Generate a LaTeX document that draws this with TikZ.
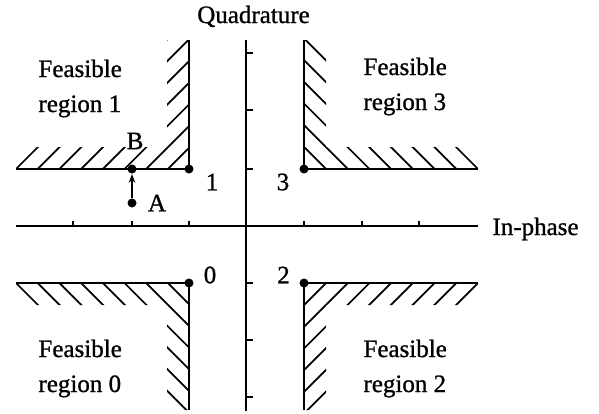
\documentclass[tikz,border=0pt]{standalone}
\usepackage{fontspec}
\setmainfont{Liberation Serif}[FakeBold=1]
\usetikzlibrary{arrows.meta}
\begin{document}
\begin{tikzpicture}[x=0.4pt,y=-0.4pt,
 axis/.style={line width=1pt},
 bound/.style={line width=1pt},
 hatch/.style={line width=0.7pt},
 tick/.style={line width=0.7pt},
 dot/.style={circle,fill,inner sep=0pt,minimum size=3.6pt},
 lbl/.style={font=\fontsize{10}{14}\selectfont, inner sep=0pt},
 region/.style={lbl, align=left, anchor=base west}]
\useasboundingbox (0,0) rectangle (599,413);
% axes
\coordinate (xl) at (16,226); \coordinate (xr) at (478,226);
\coordinate (yt) at (246,40); \coordinate (yb) at (246,411);
\draw[axis] (xl) -- (xr);
\draw[axis] (yt) -- (yb);
\foreach \x in {73,132,189,304,362,419} \draw[tick] (\x,226) -- (\x,221);
\foreach \y in {53,110,169,283,340,397} \draw[tick] (246,\y) -- (253,\y);
\node[lbl, anchor=base] (quad) at (253.5,23) {Quadrature};
\node[lbl, anchor=base west] (inph) at (492,235) {In-phase};
% points
\node[dot] (s1) at (189,169) {};
\node[dot] (s3) at (304,169) {};
\node[dot] (s0) at (189,283) {};
\node[dot] (s2) at (304,283) {};
\node[dot] (A) at (132,203) {};
\node[dot] (B) at (132,169) {};
% boundaries
\coordinate (r1a) at (16,169); \coordinate (r1b) at (189,40);
\coordinate (r3a) at (478,169); \coordinate (r3b) at (304,40);
\coordinate (r0a) at (16,283); \coordinate (r0b) at (189,410);
\coordinate (r2a) at (478,283); \coordinate (r2b) at (304,410);
\draw[bound] (r1a) -- (s1.center) -- (r1b);
\draw[bound] (r3a) -- (s3.center) -- (r3b);
\draw[bound] (r0a) -- (s0.center) -- (r0b);
\draw[bound] (r2a) -- (s2.center) -- (r2b);
% hatching region 1
\begin{scope}
\clip (16,169) -- (16,147) -- (167,147) -- (167,40) -- (189,40) -- (189,169) -- cycle;
\foreach \k in {0,...,8} {\pgfmathsetmacro\c{185+21.7*\k}
  \draw[hatch] ({\c-180},180) -- ({\c-30},30);}
\end{scope}
% hatching region 3
\begin{scope}
\clip (478,169) -- (478,147) -- (326,147) -- (326,40) -- (304,40) -- (304,169) -- cycle;
\foreach \k in {0,...,8} {\pgfmathsetmacro\c{309-21.7*\k}
  \draw[hatch] ({\c+30},30) -- ({\c+180},180);}
\end{scope}
% hatching region 0
\begin{scope}
\clip (16,283) -- (16,305) -- (167,305) -- (167,410) -- (189,410) -- (189,283) -- cycle;
\foreach \k in {0,...,8} {\pgfmathsetmacro\c{-267+21.7*\k}
  \draw[hatch] ({\c+270},270) -- ({\c+420},420);}
\end{scope}
% hatching region 2
\begin{scope}
\clip (478,283) -- (478,305) -- (326,305) -- (326,410) -- (304,410) -- (304,283) -- cycle;
\foreach \k in {0,...,8} {\pgfmathsetmacro\c{761-21.7*\k}
  \draw[hatch] ({\c-270},270) -- ({\c-420},420);}
\end{scope}
% arrow A -> B
\draw[-{Stealth[length=3.5pt,width=2.6pt]}, line width=0.7pt] (A) -- (B);
% labels
\node[lbl] (n1) at (212,182) {1};
\node[lbl] (n3) at (283,182) {3};
\node[lbl] (n0) at (210,275) {0};
\node[lbl] (n2) at (283.5,275) {2};
\node[lbl] (la) at (157,203) {A};
\node[lbl] (lb) at (135,141) {B};
\node[region] (f1) at (38,112) {Feasible\\region 1};
\node[region] (f3) at (363,110) {Feasible\\region 3};
\node[region] (f0) at (38,392) {Feasible\\region 0};
\node[region] (f2) at (363,392) {Feasible\\region 2};
\end{tikzpicture}
\end{document}
